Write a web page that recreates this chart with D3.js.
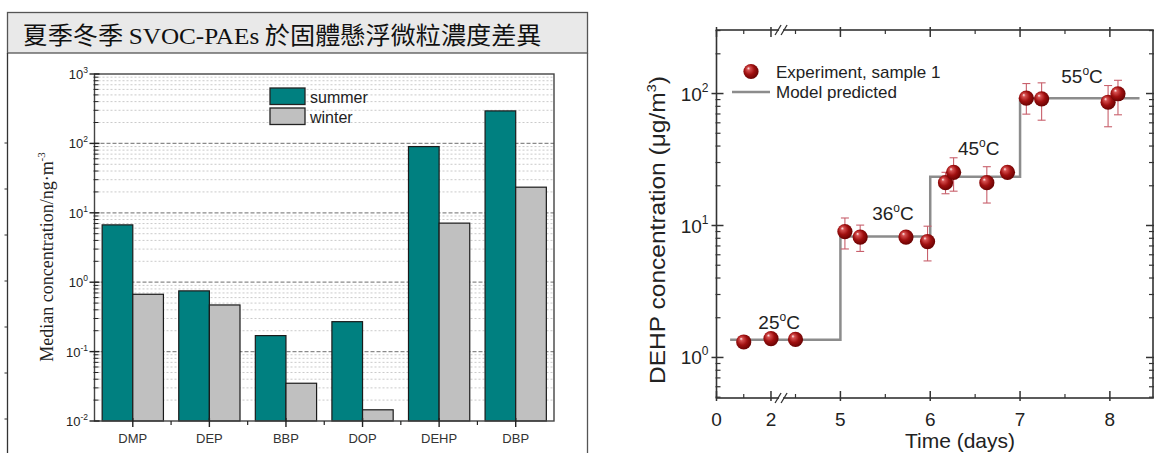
<!DOCTYPE html>
<html>
<head>
<meta charset="utf-8">
<title>SVOC-PAEs</title>
<script src="https://d3js.org/d3.v7.min.js"></script>
<style>
  body { margin: 0; background: #fff; }
  svg { display: block; }
  text { font-family: "Liberation Sans", Arial, sans-serif; fill: #222; }
</style>
</head>
<body>
<script>
// ---- left panel: median concentrations by season
const compounds = ['DMP', 'DEP', 'BBP', 'DOP', 'DEHP', 'DBP']
const seasons = ['summer', 'winter']
const summer = [6.7, 0.75, 0.17, 0.27, 90, 294]
const winter = [0.67, 0.47, 0.035, 0.0145, 7.1, 23.4]
const leftExps = [3, 2, 1, 0, -1, -2]

// ---- right panel: DEHP chamber test
const expDays = [1, 2, 2.9, 5.05, 5.22, 5.73, 5.97, 6.17, 6.26, 6.63, 6.86, 7.07, 7.24, 7.98, 8.09]
const expConc = [1.31, 1.39, 1.37, 9.0, 8.17, 8.17, 7.56, 21.1, 25.3, 21.1, 25.3, 92.2, 91.2, 85.9, 99.6]
const errLow = [1.2, 1.28, 1.26, 6.64, 6.36, 7.7, 5.39, 17.4, 18.2, 14.8, 23.5, 69.8, 62.8, 56, 69]
const errHigh = [1.43, 1.5, 1.49, 11.4, 10.07, 8.6, 9.88, 25.3, 32.6, 27.9, 27, 119, 120.5, 115, 126]
const modelDays = [0.5, 5, 6, 7, 8.33]
const modelConc = [1.36, 8.27, 23.4, 92, 92]
const temps = ['25', '36', '45', '55']
const tempDays = [2.3, 5.585, 6.54, 7.69]
const tempConc = [1.64, 11.0, 34.2, 120]
const xMajor = [0, 2, 5, 6, 7, 8]
const xMinor = [1, 4.5, 5.5, 6.5, 7.5]
const rightExps = [0, 1, 2]

const svg = d3.select('body').append('svg')
    .attr('width', 1154).attr('height', 453)

// ================= left panel =================
const frame = svg.append('g')
frame.append('rect').attr('x', 7.5).attr('y', 12.5).attr('width', 580).attr('height', 40.5)
    .attr('fill', '#e9e9e9').attr('stroke', '#555').attr('stroke-width', 1.3)
frame.append('line').attr('x1', 7.5).attr('x2', 7.5).attr('y1', 53).attr('y2', 453)
    .attr('stroke', '#333').attr('stroke-width', 1.3)
frame.append('line').attr('x1', 587.5).attr('x2', 587.5).attr('y1', 53).attr('y2', 453)
    .attr('stroke', '#555').attr('stroke-width', 1.3)
frame.selectAll('.mark').data(d3.range(7)).enter().append('line')
    .attr('x1', 4.5).attr('x2', 7.5).attr('y1', d => 143 + d * 46).attr('y2', d => 143 + d * 46)
    .attr('stroke', '#333').attr('stroke-width', 1)

const title = frame.append('text').attr('x', 22.5).attr('y', 44)
    .attr('font-size', 24).attr('textLength', 519).attr('lengthAdjust', 'spacingAndGlyphs')
    .style('font-family', '"Noto Sans CJK TC", sans-serif').style('fill', '#111')
title.append('tspan').text('夏季冬季 ')
title.append('tspan').style('font-family', '"Liberation Serif", serif').text('SVOC-PAEs')
title.append('tspan').text(' 於固體懸浮微粒濃度差異')

const pl = { left: 94.5, right: 554, top: 74, bottom: 421 }
const yL = d3.scaleLog().domain([0.01, 1000]).range([pl.bottom, pl.top])
const xL = d3.scaleBand().domain(compounds).range([pl.left, pl.right])
const xS = d3.scaleBand().domain(seasons).range([0, xL.bandwidth()]).paddingOuter(0.25)
const colorL = d3.scaleOrdinal().domain(seasons).range(['#008080', '#c0c0c0'])

const gl = svg.append('g')
const minorL = d3.range(-2, 3).flatMap(e => d3.range(2, 10).map(m => m * 10 ** e))
const majorL = leftExps.map(e => 10 ** e)

gl.selectAll('.gminor').data(minorL).enter().append('line')
    .attr('x1', pl.left).attr('x2', pl.right)
    .attr('y1', d => yL(d)).attr('y2', d => yL(d))
    .attr('stroke', '#bcbcbc').attr('stroke-width', 0.8).attr('stroke-dasharray', '2,2')
gl.selectAll('.gmajor').data(majorL.slice(1, -1)).enter().append('line')
    .attr('x1', pl.left).attr('x2', pl.right)
    .attr('y1', d => yL(d)).attr('y2', d => yL(d))
    .attr('stroke', '#8a8a8a').attr('stroke-width', 1.2).attr('stroke-dasharray', '4,2')

const rows = compounds.map((c, i) => ({ c, summer: summer[i], winter: winter[i] }))
gl.selectAll('.grp').data(rows).enter().append('g')
    .attr('transform', d => `translate(${xL(d.c)},0)`)
    .selectAll('rect').data(d => seasons.map(s => ({ s, v: d[s] }))).enter().append('rect')
    .attr('x', d => xS(d.s)).attr('width', xS.bandwidth())
    .attr('y', d => yL(d.v)).attr('height', d => pl.bottom - yL(d.v))
    .attr('fill', d => colorL(d.s)).attr('stroke', '#1a1a1a').attr('stroke-width', 1.2)

gl.append('rect').attr('x', pl.left).attr('y', pl.top)
    .attr('width', pl.right - pl.left).attr('height', pl.bottom - pl.top)
    .attr('fill', 'none').attr('stroke', '#444').attr('stroke-width', 1.4)

// y ticks
gl.selectAll('.tmaj').data(majorL).enter().append('line')
    .attr('x1', pl.left - 5).attr('x2', pl.left + 5)
    .attr('y1', d => yL(d)).attr('y2', d => yL(d))
    .attr('stroke', '#222').attr('stroke-width', 1.4)
gl.selectAll('.tmin').data(minorL).enter().append('line')
    .attr('x1', pl.left - 1).attr('x2', pl.left + 4)
    .attr('y1', d => yL(d)).attr('y2', d => yL(d))
    .attr('stroke', '#222').attr('stroke-width', 1)
const ylab = gl.selectAll('.ylab').data(leftExps).enter().append('text')
    .attr('x', 88).attr('y', d => yL(10 ** d) + 5)
    .attr('text-anchor', 'end').attr('font-size', 13)
ylab.append('tspan').text('10')
ylab.append('tspan').attr('dy', -6).attr('font-size', 8.5).text(d => d)

// x ticks
gl.selectAll('.xmaj').data(compounds).enter().append('line')
    .attr('x1', d => xL(d) + xL.bandwidth() / 2).attr('x2', d => xL(d) + xL.bandwidth() / 2)
    .attr('y1', pl.bottom - 3).attr('y2', pl.bottom + 6)
    .attr('stroke', '#222').attr('stroke-width', 1.4)
gl.selectAll('.xmin').data(compounds.slice(1)).enter().append('line')
    .attr('x1', d => xL(d)).attr('x2', d => xL(d))
    .attr('y1', pl.bottom).attr('y2', pl.bottom + 4)
    .attr('stroke', '#222').attr('stroke-width', 1.2)
gl.selectAll('.xlab').data(compounds).enter().append('text')
    .attr('x', d => xL(d) + xL.bandwidth() / 2).attr('y', 443)
    .attr('text-anchor', 'middle').attr('font-size', 13).style('fill', '#333')
    .text(d => d)

// y title
const yt = gl.append('text').attr('transform', 'translate(53,257) rotate(-90)')
    .attr('text-anchor', 'middle').attr('font-size', 18)
    .style('font-family', '"Liberation Serif", serif')
yt.append('tspan').text('Median concentration/ng·m')
yt.append('tspan').attr('dy', -8).attr('font-size', 11).text('-3')

// legend
const lg = gl.selectAll('.lg').data(seasons).enter().append('g')
    .attr('transform', (d, i) => `translate(270,${88 + i * 20})`)
lg.append('rect').attr('width', 35).attr('height', 16.5)
    .attr('fill', d => colorL(d)).attr('stroke', '#222').attr('stroke-width', 1.3)
lg.append('text').attr('x', 40).attr('y', 14.7).attr('font-size', 16).text(d => d)

// ================= right panel =================
const pr = { left: 716.5, right: 1153, top: 30, bottom: 398 }
const xR = d3.scaleLinear().domain([0, 2.9, 4.5, 8.48]).range([pr.left, 795.5, 795.5, pr.right])
const yR = d3.scaleLog().domain([0.493, 303]).range([pr.bottom, pr.top])

const defs = svg.append('defs')
const grad = defs.append('radialGradient').attr('id', 'ball')
    .attr('cx', '0.45').attr('cy', '0.45').attr('r', '0.6').attr('fx', '0.32').attr('fy', '0.28')
grad.append('stop').attr('offset', '0').attr('stop-color', '#fff4f4')
grad.append('stop').attr('offset', '0.18').attr('stop-color', '#d65050')
grad.append('stop').attr('offset', '0.55').attr('stop-color', '#a01010')
grad.append('stop').attr('offset', '1').attr('stop-color', '#600000')

const gr = svg.append('g')
const minorR = d3.range(-1, 3).flatMap(e => d3.range(2, 10).map(m => m * 10 ** e))
    .filter(v => v > 0.493 && v < 303)
const majorR = rightExps.map(e => 10 ** e)

// model line
const modelPts = modelDays.map((d, i) => [d, modelConc[i]])
gr.append('path').datum(modelPts)
    .attr('d', d3.line().x(d => xR(d[0])).y(d => yR(d[1])).curve(d3.curveStepAfter))
    .attr('fill', 'none').attr('stroke', '#8c8c8c').attr('stroke-width', 2.5)

// error bars + points
const pts = expDays.map((d, i) => ({ d, v: expConc[i], lo: errLow[i], hi: errHigh[i] }))
const eb = gr.selectAll('.eb').data(pts).enter().append('g')
    .attr('stroke', '#c8606c').attr('stroke-width', 1.1)
eb.append('line').attr('x1', d => xR(d.d)).attr('x2', d => xR(d.d))
    .attr('y1', d => yR(d.lo)).attr('y2', d => yR(d.hi))
eb.append('line').attr('x1', d => xR(d.d) - 4).attr('x2', d => xR(d.d) + 4)
    .attr('y1', d => yR(d.lo)).attr('y2', d => yR(d.lo))
eb.append('line').attr('x1', d => xR(d.d) - 4).attr('x2', d => xR(d.d) + 4)
    .attr('y1', d => yR(d.hi)).attr('y2', d => yR(d.hi))
gr.selectAll('.pt').data(pts).enter().append('circle')
    .attr('cx', d => xR(d.d)).attr('cy', d => yR(d.v)).attr('r', 7.6)
    .attr('fill', 'url(#ball)')

// temperature labels
const tl = gr.selectAll('.tl').data(temps).enter().append('text')
    .attr('x', (d, i) => xR(tempDays[i])).attr('y', (d, i) => yR(tempConc[i]))
    .attr('text-anchor', 'middle').attr('font-size', 19)
tl.append('tspan').text(d => d)
tl.append('tspan').attr('dy', -8).attr('font-size', 12).text('o')
tl.append('tspan').attr('dy', 8).text('C')

// frame
gr.append('rect').attr('x', pr.left).attr('y', pr.top)
    .attr('width', pr.right - pr.left).attr('height', pr.bottom - pr.top)
    .attr('fill', 'none').attr('stroke', '#333').attr('stroke-width', 1.6)

// y ticks both sides
;[[pr.left, 1], [pr.right, -1]].forEach(([x0, dir]) => {
    gr.selectAll(null).data(majorR).enter().append('line')
        .attr('x1', x0 - 5 * dir).attr('x2', x0 + 7 * dir)
        .attr('y1', d => yR(d)).attr('y2', d => yR(d))
        .attr('stroke', '#333').attr('stroke-width', 1.5)
    gr.selectAll(null).data(minorR).enter().append('line')
        .attr('x1', x0 - 1 * dir).attr('x2', x0 + 4 * dir)
        .attr('y1', d => yR(d)).attr('y2', d => yR(d))
        .attr('stroke', '#333').attr('stroke-width', 1.2)
})
// x ticks top and bottom
;[[pr.bottom, -1], [pr.top, 1]].forEach(([y0, dir]) => {
    gr.selectAll(null).data(xMajor).enter().append('line')
        .attr('x1', d => xR(d)).attr('x2', d => xR(d))
        .attr('y1', y0 - 3 * dir).attr('y2', y0 + 7 * dir)
        .attr('stroke', '#333').attr('stroke-width', 1.5)
    gr.selectAll(null).data(xMinor).enter().append('line')
        .attr('x1', d => xR(d)).attr('x2', d => xR(d))
        .attr('y1', y0).attr('y2', y0 + 4 * dir)
        .attr('stroke', '#333').attr('stroke-width', 1.2)
})
// axis break marks
const bx = xR(2.37)
;[pr.top, pr.bottom].forEach(y0 => {
    gr.append('rect').attr('x', bx - 2).attr('y', y0 - 3).attr('width', 4).attr('height', 6).attr('fill', '#fff')
    ;[-3, 3].forEach(o => {
        gr.append('line').attr('x1', bx + o - 3).attr('y1', y0 + 5).attr('x2', bx + o + 3).attr('y2', y0 - 5)
            .attr('stroke', '#333').attr('stroke-width', 1.3)
    })
})

// tick labels
gr.selectAll('.xl').data(xMajor).enter().append('text')
    .attr('x', d => xR(d)).attr('y', 426).attr('text-anchor', 'middle').attr('font-size', 19)
    .text(d => d)
const yl = gr.selectAll('.yl').data(rightExps).enter().append('text')
    .attr('x', 708.5).attr('y', d => yR(10 ** d) + 7).attr('text-anchor', 'end').attr('font-size', 19)
yl.append('tspan').text('10')
yl.append('tspan').attr('dy', -9).attr('font-size', 12).text(d => d)

// axis titles
gr.append('text').attr('x', 960).attr('y', 448).attr('text-anchor', 'middle')
    .attr('font-size', 21).text('Time (days)')
const ytr = gr.append('text').attr('transform', 'translate(665,230) rotate(-90)')
    .attr('text-anchor', 'middle').attr('font-size', 22)
    .attr('textLength', 308).attr('lengthAdjust', 'spacingAndGlyphs')
ytr.append('tspan').text('DEHP concentration (μg/m')
ytr.append('tspan').attr('dy', -9).attr('font-size', 13).text('3')
ytr.append('tspan').attr('dy', 9).text(')')

// legend
gr.append('circle').attr('cx', 751).attr('cy', 71.5).attr('r', 7.6).attr('fill', 'url(#ball)')
gr.append('text').attr('x', 776).attr('y', 77.7).attr('font-size', 17).text('Experiment, sample 1')
gr.append('line').attr('x1', 732).attr('x2', 770).attr('y1', 92).attr('y2', 92)
    .attr('stroke', '#8c8c8c').attr('stroke-width', 2.5)
gr.append('text').attr('x', 776).attr('y', 98).attr('font-size', 17).text('Model predicted')
</script>
</body>
</html>
